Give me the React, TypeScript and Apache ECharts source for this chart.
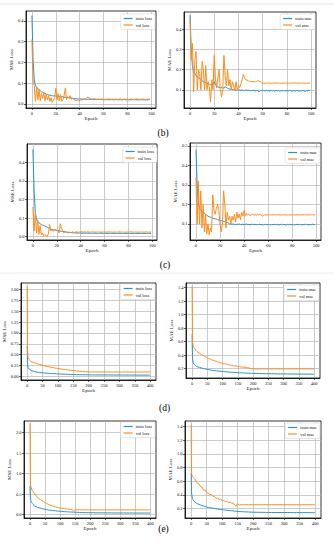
import React, { useEffect, useRef } from "react";
import * as echarts from "echarts";

// ---------- data ----------
const EPOCHS_100 = Array.from({ length: 100 }, (_, i) => i);
const EPOCHS_400 = [
  0, 1, 2, 3, 4, 6, 8, 10, 13, 16,
  20, 25, 30, 35, 40, 45, 50, 55, 60, 65, 70, 75, 80, 85, 90, 95, 100, 105, 110, 115,
  120, 125, 130, 135, 140, 145, 150, 155, 160, 165, 170, 175, 180, 185, 190, 195, 200,
  210, 220, 230, 240, 250, 260, 270, 280, 290, 300, 310, 320, 330, 340, 350, 360, 370, 380, 390,
  399,
];

const X_TICKS_100 = [0, 20, 40, 60, 80, 100];
const X_TICKS_400 = [0, 50, 100, 150, 200, 250, 300, 350, 400];
const Y_TICKS_B_MSE = [0, 0.1, 0.2, 0.3, 0.4];
const Y_TICKS_B_MAE = [0.1, 0.2, 0.3, 0.4];
const Y_TICKS_C_MSE = [0, 0.1, 0.2, 0.3, 0.4];
const Y_TICKS_C_MAE = [0.1, 0.2, 0.3, 0.4, 0.5];
const Y_TICKS_D_MSE = [0, 0.25, 0.5, 0.75, 1, 1.25, 1.5, 1.75, 2];
const Y_TICKS_D_MAE = [0.2, 0.4, 0.6, 0.8, 1, 1.2, 1.4];
const Y_TICKS_E_MSE = [0, 0.5, 1, 1.5, 2];
const Y_TICKS_E_MAE = [0.2, 0.4, 0.6, 0.8, 1, 1.2, 1.4];

const B_MSE_TRAIN = [
  0.425, 0.21, 0.115, 0.088, 0.08, 0.072, 0.068, 0.062, 0.058, 0.055,
  0.052, 0.05, 0.047, 0.045, 0.043, 0.042, 0.04, 0.039, 0.038, 0.04,
  0.037, 0.036, 0.035, 0.036, 0.034, 0.033, 0.034, 0.032, 0.031, 0.03,
  0.03, 0.029, 0.028, 0.029, 0.027, 0.026, 0.025, 0.025, 0.024, 0.023,
  0.023, 0.024, 0.022, 0.023, 0.022, 0.022, 0.021, 0.023, 0.022, 0.021,
  0.021, 0.022, 0.02, 0.021, 0.021, 0.02, 0.022, 0.02, 0.021, 0.02,
  0.021, 0.02, 0.02, 0.021, 0.019, 0.02, 0.021, 0.02, 0.02, 0.019,
  0.02, 0.021, 0.019, 0.02, 0.02, 0.019, 0.02, 0.021, 0.019, 0.02,
  0.02, 0.019, 0.02, 0.019, 0.02, 0.021, 0.019, 0.02, 0.019, 0.02,
  0.019, 0.02, 0.02, 0.019, 0.02, 0.019, 0.02, 0.019, 0.02, 0.02,
];
const B_MSE_VAL = [
  0.31, 0.1, 0.088, 0.012, 0.08, 0.02, 0.07, 0.015, 0.05, 0.025,
  0.055, 0.015, 0.045, 0.02, 0.04, 0.012, 0.03, 0.008, 0.018, 0.03,
  0.075, 0.02, 0.05, 0.015, 0.045, 0.012, 0.02, 0.04, 0.075, 0.02,
  0.035, 0.028, 0.04, 0.022, 0.025, 0.02, 0.018, 0.016, 0.018, 0.015,
  0.016, 0.02, 0.018, 0.022, 0.025, 0.026, 0.03, 0.032, 0.028, 0.026,
  0.024, 0.022, 0.025, 0.023, 0.022, 0.024, 0.023, 0.021, 0.024, 0.022,
  0.023, 0.022, 0.021, 0.023, 0.022, 0.024, 0.022, 0.021, 0.023, 0.022,
  0.022, 0.023, 0.021, 0.022, 0.024, 0.022, 0.021, 0.023, 0.022, 0.022,
  0.023, 0.021, 0.022, 0.023, 0.022, 0.021, 0.023, 0.022, 0.024, 0.022,
  0.021, 0.023, 0.022, 0.022, 0.023, 0.021, 0.022, 0.023, 0.022, 0.024,
];
const B_MAE_TRAIN = [
  0.47, 0.3, 0.22, 0.19, 0.18, 0.17, 0.165, 0.16, 0.155, 0.15,
  0.145, 0.14, 0.138, 0.135, 0.132, 0.13, 0.128, 0.125, 0.122, 0.125,
  0.14, 0.125, 0.118, 0.115, 0.112, 0.11, 0.112, 0.108, 0.11, 0.115,
  0.112, 0.108, 0.105, 0.103, 0.104, 0.102, 0.1, 0.101, 0.099, 0.1,
  0.098, 0.1, 0.097, 0.099, 0.098, 0.096, 0.099, 0.097, 0.098, 0.096,
  0.097, 0.095, 0.098, 0.096, 0.094, 0.097, 0.095, 0.09, 0.096, 0.095,
  0.097, 0.096, 0.094, 0.098, 0.095, 0.096, 0.093, 0.097, 0.095, 0.096,
  0.094, 0.097, 0.095, 0.096, 0.093, 0.096, 0.095, 0.097, 0.094, 0.095,
  0.096, 0.094, 0.097, 0.095, 0.093, 0.096, 0.095, 0.094, 0.097, 0.095,
  0.093, 0.096, 0.094, 0.097, 0.095, 0.092, 0.096, 0.094, 0.098, 0.096,
];
const B_MAE_VAL = [
  0.45, 0.25, 0.33, 0.09, 0.25, 0.29, 0.1, 0.2, 0.18, 0.1,
  0.24, 0.2, 0.1, 0.22, 0.1, 0.14, 0.11, 0.04, 0.15, 0.1,
  0.27, 0.15, 0.11, 0.16, 0.2, 0.1, 0.065, 0.1, 0.27, 0.17,
  0.12, 0.2, 0.12, 0.15, 0.1, 0.14, 0.12, 0.095, 0.14, 0.1,
  0.12, 0.11, 0.13, 0.15, 0.175, 0.16, 0.15, 0.148, 0.145, 0.14,
  0.142, 0.14, 0.141, 0.139, 0.14, 0.142, 0.145, 0.143, 0.14, 0.135,
  0.133, 0.133, 0.132, 0.133, 0.133, 0.134, 0.133, 0.133, 0.132, 0.133,
  0.133, 0.133, 0.134, 0.133, 0.133, 0.132, 0.133, 0.133, 0.133, 0.134,
  0.133, 0.132, 0.133, 0.133, 0.133, 0.133, 0.134, 0.133, 0.132, 0.133,
  0.133, 0.133, 0.133, 0.134, 0.133, 0.133, 0.132, 0.133, 0.133, 0.133,
];
const C_MSE_TRAIN = [
  0.47, 0.25, 0.13, 0.095, 0.08, 0.075, 0.07, 0.065, 0.062, 0.06,
  0.057, 0.054, 0.05, 0.047, 0.044, 0.04, 0.038, 0.037, 0.036, 0.035,
  0.034, 0.033, 0.032, 0.03, 0.029, 0.028, 0.027, 0.026, 0.025, 0.024,
  0.023, 0.022, 0.022, 0.021, 0.02, 0.021, 0.02, 0.019, 0.02, 0.019,
  0.019, 0.018, 0.019, 0.019, 0.018, 0.019, 0.018, 0.018, 0.019, 0.018,
  0.018, 0.019, 0.018, 0.018, 0.017, 0.018, 0.018, 0.019, 0.018, 0.017,
  0.018, 0.018, 0.017, 0.018, 0.018, 0.017, 0.018, 0.018, 0.017, 0.018,
  0.017, 0.018, 0.018, 0.017, 0.018, 0.017, 0.018, 0.017, 0.018, 0.017,
  0.018, 0.017, 0.017, 0.018, 0.017, 0.018, 0.017, 0.017, 0.018, 0.017,
  0.017, 0.018, 0.017, 0.017, 0.018, 0.017, 0.017, 0.018, 0.017, 0.017,
];
const C_MSE_VAL = [
  0.16, 0.03, 0.13, 0.02, 0.09, 0.012, 0.06, 0.01, 0.02, 0.005,
  0.012, 0.004, 0.003, 0.015, 0.065, 0.03, 0.04, 0.028, 0.035, 0.04,
  0.03, 0.035, 0.02, 0.07, 0.045, 0.03, 0.02, 0.028, 0.024, 0.02,
  0.022, 0.025, 0.021, 0.026, 0.024, 0.022, 0.027, 0.025, 0.023, 0.026,
  0.025, 0.027, 0.024, 0.026, 0.025, 0.024, 0.026, 0.025, 0.024, 0.025,
  0.026, 0.024, 0.025, 0.024, 0.025, 0.026, 0.024, 0.025, 0.024, 0.025,
  0.024, 0.025, 0.024, 0.025, 0.026, 0.024, 0.025, 0.024, 0.025, 0.024,
  0.025, 0.024, 0.025, 0.026, 0.024, 0.025, 0.024, 0.025, 0.024, 0.025,
  0.024, 0.025, 0.026, 0.024, 0.025, 0.024, 0.025, 0.024, 0.025, 0.024,
  0.025, 0.024, 0.025, 0.024, 0.025, 0.026, 0.024, 0.025, 0.024, 0.025,
];
const C_MAE_TRAIN = [
  0.48, 0.3, 0.2, 0.18, 0.17, 0.165, 0.16, 0.155, 0.15, 0.145,
  0.14, 0.138, 0.135, 0.133, 0.13, 0.128, 0.126, 0.124, 0.122, 0.12,
  0.118, 0.117, 0.115, 0.113, 0.112, 0.11, 0.108, 0.105, 0.1, 0.1,
  0.099, 0.1, 0.098, 0.097, 0.099, 0.098, 0.1, 0.097, 0.098, 0.099,
  0.097, 0.098, 0.1, 0.097, 0.098, 0.096, 0.099, 0.098, 0.097, 0.099,
  0.096, 0.098, 0.097, 0.099, 0.096, 0.098, 0.095, 0.097, 0.099, 0.096,
  0.098, 0.097, 0.095, 0.098, 0.096, 0.099, 0.097, 0.096, 0.098, 0.095,
  0.097, 0.099, 0.096, 0.098, 0.097, 0.095, 0.098, 0.096, 0.099, 0.097,
  0.096, 0.098, 0.095, 0.097, 0.099, 0.096, 0.098, 0.097, 0.095, 0.098,
  0.096, 0.099, 0.097, 0.095, 0.098, 0.096, 0.097, 0.099, 0.096, 0.098,
];
const C_MAE_VAL = [
  0.34, 0.1, 0.32, 0.1, 0.27, 0.08, 0.2, 0.06, 0.15, 0.05,
  0.1, 0.045, 0.08, 0.06, 0.25, 0.17, 0.15, 0.18, 0.2, 0.17,
  0.1, 0.06, 0.1, 0.27, 0.2, 0.08, 0.16, 0.12, 0.14, 0.1,
  0.14, 0.12, 0.15, 0.11, 0.16, 0.13, 0.15, 0.12, 0.16, 0.14,
  0.17, 0.14, 0.155, 0.145, 0.15, 0.142, 0.148, 0.15, 0.146, 0.148,
  0.145, 0.15, 0.147, 0.149, 0.146, 0.14, 0.143, 0.146, 0.147, 0.146,
  0.147, 0.147, 0.146, 0.147, 0.147, 0.147, 0.146, 0.147, 0.147, 0.147,
  0.147, 0.146, 0.147, 0.147, 0.147, 0.147, 0.146, 0.147, 0.147, 0.147,
  0.147, 0.147, 0.146, 0.147, 0.147, 0.147, 0.147, 0.146, 0.147, 0.147,
  0.147, 0.147, 0.147, 0.146, 0.147, 0.147, 0.147, 0.147, 0.147, 0.147,
];

const D_MSE_TRAIN = [
  0.7, 0.32, 0.24, 0.21, 0.19, 0.17, 0.16, 0.15, 0.135, 0.125,
  0.115, 0.105, 0.098, 0.092, 0.087, 0.083, 0.08, 0.077, 0.074, 0.071,
  0.069, 0.066, 0.064, 0.062, 0.06, 0.058, 0.056, 0.054, 0.052, 0.05,
  0.049, 0.047, 0.046, 0.045, 0.044, 0.042, 0.041, 0.04, 0.039, 0.038,
  0.038, 0.037, 0.036, 0.036, 0.035, 0.034, 0.034,
  0.033, 0.033, 0.032, 0.032, 0.031, 0.031, 0.031, 0.03, 0.03, 0.03,
  0.03, 0.029, 0.029, 0.029, 0.029, 0.028, 0.028, 0.028, 0.028,
  0.028,
];
const D_MSE_VAL = [
  2.08, 0.75, 0.5, 0.44, 0.42, 0.39, 0.37, 0.355, 0.34, 0.33,
  0.32, 0.308, 0.292, 0.287, 0.272, 0.266, 0.252, 0.247, 0.235, 0.232,
  0.219, 0.216, 0.205, 0.202, 0.19, 0.189, 0.178, 0.177, 0.167, 0.166,
  0.157, 0.156, 0.148, 0.146, 0.139, 0.138, 0.131, 0.13, 0.124, 0.122,
  0.116, 0.115, 0.11, 0.108, 0.104, 0.104, 0.101,
  0.1, 0.1, 0.099, 0.1, 0.099, 0.1, 0.099, 0.099, 0.1, 0.099,
  0.099, 0.1, 0.099, 0.099, 0.099, 0.1, 0.099, 0.099, 0.099,
  0.099,
];
const D_MAE_TRAIN = [
  0.71, 0.4, 0.33, 0.3, 0.285, 0.27, 0.26, 0.25, 0.24, 0.232,
  0.225, 0.218, 0.212, 0.206, 0.2, 0.195, 0.19, 0.186, 0.182, 0.178,
  0.175, 0.172, 0.169, 0.166, 0.163, 0.161, 0.159, 0.157, 0.155, 0.153,
  0.151, 0.149, 0.147, 0.146, 0.144, 0.143, 0.141, 0.14, 0.139, 0.138,
  0.137, 0.136, 0.135, 0.134, 0.133, 0.132, 0.131,
  0.13, 0.129, 0.128, 0.127, 0.126, 0.126, 0.125, 0.124, 0.124, 0.123,
  0.123, 0.122, 0.122, 0.121, 0.121, 0.121, 0.12, 0.12, 0.12,
  0.12,
];
const D_MAE_VAL = [
  1.42, 0.65, 0.58, 0.55, 0.53, 0.51, 0.5, 0.48, 0.47, 0.455,
  0.44, 0.43, 0.41, 0.4, 0.385, 0.375, 0.36, 0.35, 0.345, 0.33,
  0.325, 0.315, 0.31, 0.3, 0.295, 0.285, 0.28, 0.27, 0.275, 0.26,
  0.262, 0.25, 0.255, 0.245, 0.24, 0.242, 0.232, 0.235, 0.225, 0.228,
  0.22, 0.222, 0.212, 0.215, 0.205, 0.198, 0.198,
  0.198, 0.198, 0.198, 0.198, 0.198, 0.198, 0.198, 0.198, 0.198, 0.198,
  0.198, 0.198, 0.198, 0.198, 0.198, 0.198, 0.198, 0.198, 0.198,
  0.198,
];
const E_MSE_TRAIN = [
  0.7, 0.45, 0.38, 0.34, 0.32, 0.29, 0.27, 0.25, 0.23, 0.21,
  0.195, 0.18, 0.168, 0.157, 0.148, 0.14, 0.132, 0.125, 0.119, 0.113,
  0.108, 0.103, 0.098, 0.094, 0.09, 0.087, 0.084, 0.081, 0.078, 0.075,
  0.072, 0.07, 0.068, 0.066, 0.064, 0.062, 0.06, 0.058, 0.057, 0.056,
  0.054, 0.053, 0.052, 0.051, 0.05, 0.049, 0.048,
  0.047, 0.046, 0.045, 0.045, 0.044, 0.044, 0.043, 0.043, 0.042, 0.042,
  0.042, 0.041, 0.041, 0.041, 0.04, 0.04, 0.04, 0.04, 0.04,
  0.04,
];
const E_MSE_VAL = [
  2.22, 0.8, 0.72, 0.68, 0.65, 0.61, 0.58, 0.56, 0.53, 0.5,
  0.46, 0.43, 0.39, 0.37, 0.34, 0.32, 0.29, 0.28, 0.255, 0.245,
  0.225, 0.215, 0.2, 0.192, 0.18, 0.172, 0.16, 0.157, 0.15, 0.147,
  0.14, 0.137, 0.132, 0.128, 0.122, 0.09, 0.122, 0.118, 0.119, 0.118,
  0.119, 0.118, 0.119, 0.118, 0.118, 0.119, 0.118,
  0.118, 0.118, 0.118, 0.118, 0.118, 0.118, 0.118, 0.118, 0.118, 0.118,
  0.118, 0.118, 0.118, 0.118, 0.118, 0.118, 0.118, 0.118, 0.118,
  0.118,
];
const E_MAE_TRAIN = [
  0.72, 0.45, 0.4, 0.37, 0.35, 0.33, 0.315, 0.3, 0.29, 0.28,
  0.27, 0.26, 0.25, 0.242, 0.235, 0.228, 0.222, 0.217, 0.212, 0.207,
  0.203, 0.199, 0.195, 0.191, 0.188, 0.185, 0.182, 0.179, 0.176, 0.173,
  0.17, 0.168, 0.166, 0.164, 0.162, 0.16, 0.158, 0.156, 0.154, 0.152,
  0.151, 0.15, 0.149, 0.148, 0.147, 0.146, 0.145,
  0.144, 0.143, 0.143, 0.142, 0.142, 0.141, 0.141, 0.141, 0.14, 0.14,
  0.14, 0.14, 0.139, 0.139, 0.139, 0.139, 0.139, 0.138, 0.138,
  0.138,
];
const E_MAE_VAL = [
  1.43, 0.75, 0.7, 0.68, 0.67, 0.66, 0.65, 0.64, 0.62, 0.6,
  0.57, 0.56, 0.52, 0.51, 0.47, 0.47, 0.43, 0.425, 0.405, 0.405,
  0.38, 0.375, 0.35, 0.355, 0.335, 0.335, 0.315, 0.315, 0.3, 0.305,
  0.29, 0.295, 0.28, 0.28, 0.25, 0.23, 0.27, 0.25, 0.255, 0.255,
  0.255, 0.255, 0.255, 0.255, 0.255, 0.255, 0.255,
  0.255, 0.255, 0.255, 0.255, 0.255, 0.255, 0.255, 0.255, 0.255, 0.255,
  0.255, 0.255, 0.255, 0.255, 0.255, 0.255, 0.255, 0.255, 0.255,
  0.255,
];

// ---------- layout / style ----------
const FONT = '"Liberation Serif", "DejaVu Serif", "Times New Roman", serif';
const BLUE = "#2394d2";
const ORANGE = "#ff8c1a";
const GRID_COLOR = "#b4b4b4";

type Panel = {
  grid: { left: number; top: number; width: number; height: number };
  xr: [number, number];
  xt: number[];
  yr: [number, number];
  yt: number[];
  yd: number;
  yname: string;
  ygap: number;
  names: [string, string];
  ex: number[];
  tr: number[];
  va: number[];
  lg: { right: number; top: number };
};

const PANELS: Panel[] = [
  { grid: { left: 26, top: 11, width: 130, height: 97 }, xr: [-4.95, 103.95], xt: X_TICKS_100, yr: [-0.02, 0.447], yt: Y_TICKS_B_MSE, yd: 1, yname: "MSE Loss", ygap: 11, names: ["train loss", "val loss"], ex: EPOCHS_100, tr: B_MSE_TRAIN, va: B_MSE_VAL, lg: { right: 179, top: 14 } },
  { grid: { left: 184, top: 12, width: 132, height: 96 }, xr: [-4.95, 103.95], xt: X_TICKS_100, yr: [0.01, 0.485], yt: Y_TICKS_B_MAE, yd: 1, yname: "MAE Loss", ygap: 11, names: ["train mae", "val mae"], ex: EPOCHS_100, tr: B_MAE_TRAIN, va: B_MAE_VAL, lg: { right: 19, top: 14 } },
  { grid: { left: 27, top: 144, width: 130, height: 96 }, xr: [-4.95, 103.95], xt: X_TICKS_100, yr: [-0.018, 0.499], yt: Y_TICKS_C_MSE, yd: 1, yname: "MSE Loss", ygap: 11, names: ["train loss", "val loss"], ex: EPOCHS_100, tr: C_MSE_TRAIN, va: C_MSE_VAL, lg: { right: 177, top: 147 } },
  { grid: { left: 190, top: 143, width: 131, height: 97 }, xr: [-4.95, 103.95], xt: X_TICKS_100, yr: [0.018, 0.515], yt: Y_TICKS_C_MAE, yd: 1, yname: "MAE Loss", ygap: 11, names: ["train mae", "val mae"], ex: EPOCHS_100, tr: C_MAE_TRAIN, va: C_MAE_VAL, lg: { right: 14, top: 148 } },
  { grid: { left: 21, top: 283, width: 135, height: 97 }, xr: [-20, 419], xt: X_TICKS_400, yr: [-0.085, 2.15], yt: Y_TICKS_D_MSE, yd: 2, yname: "MSE Loss", ygap: 13, names: ["train loss", "val loss"], ex: EPOCHS_400, tr: D_MSE_TRAIN, va: D_MSE_VAL, lg: { right: 179, top: 284 } },
  { grid: { left: 186, top: 283, width: 134, height: 95 }, xr: [-20, 419], xt: X_TICKS_400, yr: [0.063, 1.468], yt: Y_TICKS_D_MAE, yd: 1, yname: "MAE Loss", ygap: 11, names: ["train mae", "val mae"], ex: EPOCHS_400, tr: D_MAE_TRAIN, va: D_MAE_VAL, lg: { right: 15, top: 285 } },
  { grid: { left: 24, top: 421, width: 132, height: 97 }, xr: [-20, 419], xt: X_TICKS_400, yr: [-0.08, 2.28], yt: Y_TICKS_E_MSE, yd: 1, yname: "MSE Loss", ygap: 11, names: ["train loss", "val loss"], ex: EPOCHS_400, tr: E_MSE_TRAIN, va: E_MSE_VAL, lg: { right: 179, top: 422 } },
  { grid: { left: 185, top: 421, width: 136, height: 97 }, xr: [-20, 419], xt: X_TICKS_400, yr: [0.06, 1.483], yt: Y_TICKS_E_MAE, yd: 1, yname: "MAE Loss", ygap: 11, names: ["train mae", "val mae"], ex: EPOCHS_400, tr: E_MAE_TRAIN, va: E_MAE_VAL, lg: { right: 14, top: 423 } },
];

const SUB_LABELS = [
  { text: "(b)", x: 163, y: 133 },
  { text: "(c)", x: 165, y: 265 },
  { text: "(d)", x: 164.5, y: 408 },
  { text: "(e)", x: 163.5, y: 529 },
];

function buildOption() {
  const grid: any[] = [];
  const xAxis: any[] = [];
  const yAxis: any[] = [];
  const series: any[] = [];
  const legend: any[] = [];
  const labelStyle = { fontSize: 4.5, color: "#111", fontFamily: FONT };
  PANELS.forEach((p, i) => {
    grid.push({
      ...p.grid,
      show: true,
      borderColor: "#000",
      borderWidth: 0.8,
      backgroundColor: "transparent",
    });
    xAxis.push({
      gridIndex: i,
      type: "value",
      min: p.xr[0],
      max: p.xr[1],
      name: "Epoch",
      nameLocation: "middle",
      nameGap: 8,
      nameTextStyle: { fontSize: 5, color: "#111", fontFamily: FONT },
      axisLine: { show: true, onZero: false, lineStyle: { color: "#000", width: 0.8 } },
      axisTick: { show: true, length: 2, customValues: p.xt, lineStyle: { color: "#000", width: 0.6 } },
      axisLabel: { ...labelStyle, margin: 2.5, customValues: p.xt, formatter: (v: number) => String(Math.round(v)) },
      splitLine: { show: true, lineStyle: { color: GRID_COLOR, width: 0.7 } },
    });
    yAxis.push({
      gridIndex: i,
      type: "value",
      min: p.yr[0],
      max: p.yr[1],
      name: p.yname,
      nameLocation: "middle",
      nameGap: p.ygap,
      nameTextStyle: { fontSize: 5, color: "#111", fontFamily: FONT },
      axisLine: { show: true, onZero: false, lineStyle: { color: "#000", width: 0.8 } },
      axisTick: { show: true, length: 2, customValues: p.yt, lineStyle: { color: "#000", width: 0.6 } },
      axisLabel: { ...labelStyle, margin: 2.5, customValues: p.yt, formatter: (v: number) => v.toFixed(p.yd) },
      splitLine: { show: true, lineStyle: { color: GRID_COLOR, width: 0.7 } },
    });
    const mk = (name: string, vals: number[], color: string, z: number) => ({
      type: "line",
      name,
      xAxisIndex: i,
      yAxisIndex: i,
      data: p.ex.map((e, k) => [e, vals[k]]),
      showSymbol: false,
      symbol: "none",
      z,
      lineStyle: { width: 1, color },
      itemStyle: { color },
      emphasis: { disabled: true },
    });
    series.push(mk(p.names[0], p.tr, BLUE, 2));
    series.push(mk(p.names[1], p.va, ORANGE, 3));
    legend.push({
      orient: "vertical",
      right: p.lg.right,
      top: p.lg.top,
      icon: "rect",
      itemWidth: 9,
      itemHeight: 1.2,
      itemGap: 1.5,
      padding: [2, 3, 2, 3],
      backgroundColor: "#fff",
      borderColor: "#cfcfcf",
      borderWidth: 0.5,
      borderRadius: 1.5,
      selectedMode: false,
      textStyle: { fontSize: 4.5, color: "#111", fontFamily: FONT, padding: [0, 0, 0, -2] },
      data: p.names,
    });
  });

  const graphic: any[] = [
    { type: "line", shape: { x1: 0, y1: 4, x2: 334, y2: 4 }, style: { stroke: "#e4e4e4", lineWidth: 0.8 } },
    { type: "line", shape: { x1: 0, y1: 273, x2: 334, y2: 273 }, style: { stroke: "#e4e4e4", lineWidth: 0.8 } },
    ...SUB_LABELS.map((s) => ({
      type: "text",
      x: s.x,
      y: s.y,
      style: {
        text: s.text,
        fontSize: 9.5,
        fontFamily: FONT,
        fill: "#000",
        align: "center",
        verticalAlign: "middle",
      },
    })),
  ];

  return {
    animation: false,
    backgroundColor: "#fff",
    grid,
    xAxis,
    yAxis,
    series,
    legend,
    graphic,
  };
}

export default function App() {
  const ref = useRef<HTMLDivElement>(null);
  useEffect(() => {
    document.body.style.margin = "0";
    if (!ref.current) return;
    const chart = echarts.init(ref.current, undefined, { renderer: "svg" });
    chart.setOption(buildOption() as any);
    return () => chart.dispose();
  }, []);
  return <div ref={ref} style={{ width: 334, height: 550 }} />;
}
